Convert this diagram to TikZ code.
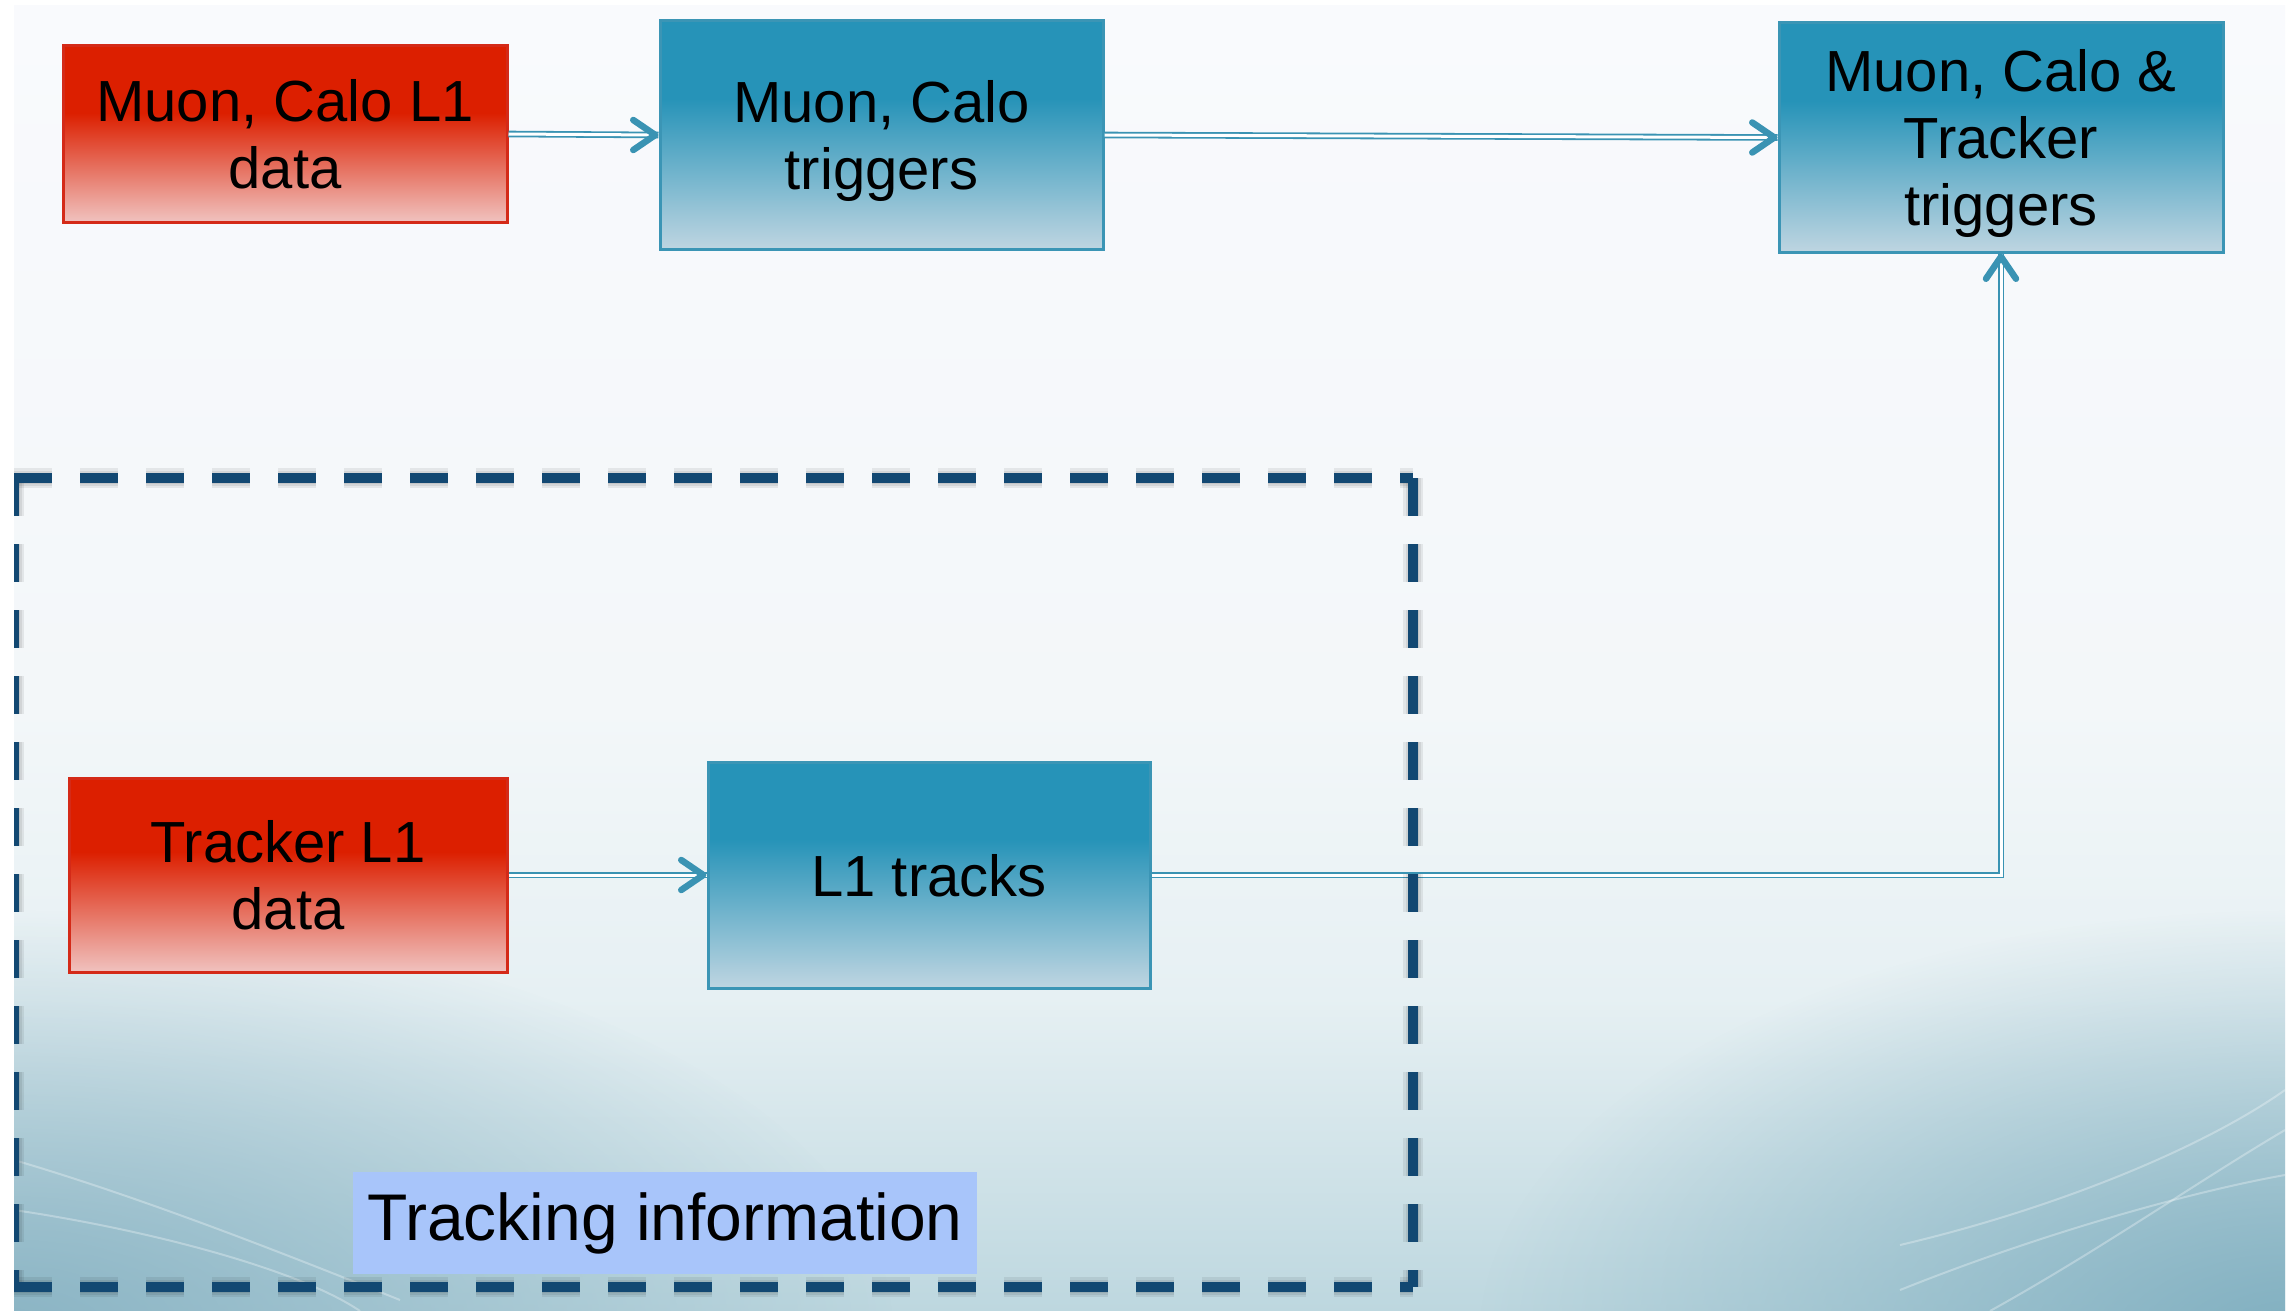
\documentclass[tikz,border=0pt]{standalone}
\usepackage{fontspec}
\setmainfont{Liberation Sans}
\usetikzlibrary{arrows.meta,fadings,calc}
\definecolor{redtop}{HTML}{DC1F00}
\definecolor{redbot}{HTML}{F0C2BF}
\definecolor{redline}{HTML}{D42A18}
\definecolor{bluetop}{HTML}{2693B8}
\definecolor{bluebot}{HTML}{BED5E1}
\definecolor{blueline}{HTML}{3B95B5}
\definecolor{lnk}{HTML}{3A93B3}
\definecolor{navy}{HTML}{124872}
\definecolor{lblfill}{HTML}{A8C5FA}
\definecolor{bgA}{HTML}{F9FAFD}
\definecolor{bgB}{HTML}{F3F7F9}
\definecolor{bgC}{HTML}{E6F0F3}
\definecolor{bgD}{HTML}{BDD7DF}
\definecolor{tealL}{HTML}{8AB4C4}
\definecolor{tealR}{HTML}{80AFC0}
\pgfdeclareverticalshading{redsh}{100bp}{color(0bp)=(redbot); color(25bp)=(redbot); color(56bp)=(redtop); color(100bp)=(redtop)}
\pgfdeclareverticalshading{bluesh}{100bp}{color(0bp)=(bluebot); color(25bp)=(bluebot); color(58bp)=(bluetop); color(100bp)=(bluetop)}
\pgfdeclareverticalshading{bgsh}{100bp}{color(0bp)=(bgD); color(25bp)=(bgD); color(37bp)=(bgC); color(48bp)=(bgB); color(75bp)=(bgA); color(100bp)=(bgA)}
\tikzfading[name=softblob, inner color=transparent!0, outer color=transparent!100]
\begin{document}
\begin{tikzpicture}[x=1pt,y=-1pt,
  boxbase/.style={rectangle, inner sep=0pt, align=center, line width=3pt, text depth=0pt,
    font=\fontsize{58}{67}\selectfont},
  redbox/.style={boxbase, draw=redline, shading=redsh},
  bluebox/.style={boxbase, draw=blueline, shading=bluesh},
  dbl/.style={draw=lnk, double=white, double distance=3pt, line width=1.8pt},
  tipst/.style={draw=lnk, line width=6.5pt, -{Straight Barb[length=22pt,width=30pt,round]}},
  frame/.style={draw=navy, line width=10pt, dash pattern=on 38pt off 28pt},
  frameshadow/.style={draw=black, opacity=0.07, dash pattern=on 38pt off 28pt},
  wave/.style={draw=white, opacity=0.3, line width=2pt},
  lbl/.style={rectangle, fill=lblfill, inner sep=0pt, minimum width=624pt, minimum height=102pt,
    font=\fontsize{66}{70}\selectfont}
]
\useasboundingbox (0,0) rectangle (2289,1311);
\fill[white] (0,0) rectangle (2289,1311);
\shade[shading=bgsh] (14,6) rectangle (2285,1311);
\begin{scope}
\clip (14,6) rectangle (2285,1311);
\fill[tealL, path fading=softblob] (0,1330) ellipse [x radius=900, y radius=420];
\fill[tealR, path fading=softblob] (2300,1340) ellipse [x radius=820, y radius=430];
\draw[wave] (14,1160) .. controls (150,1200) and (300,1260) .. (400,1300);
\draw[wave] (14,1210) .. controls (150,1230) and (300,1270) .. (360,1311);
\draw[wave] (1900,1245) .. controls (2050,1210) and (2200,1150) .. (2285,1090);
\draw[wave] (1990,1311) .. controls (2100,1250) and (2200,1180) .. (2285,1130);
\draw[wave] (1900,1290) .. controls (2050,1230) and (2200,1190) .. (2285,1175);
\end{scope}

% nodes
\node[redbox, minimum width=444pt, minimum height=176pt] (m1) at (285,134) {Muon, Calo L1\\data};
\node[bluebox, minimum width=443pt, minimum height=228pt] (m2) at (881.5,135) {Muon, Calo\\triggers};
\node[bluebox, minimum width=444pt, minimum height=229pt] (m3) at (2001,137.5) {Muon, Calo \&\\Tracker\\triggers};
\node[redbox, minimum width=438pt, minimum height=194pt] (m4) at (288,875) {Tracker L1\\data};
\node[bluebox, minimum width=442pt, minimum height=226pt] (m5) at (929,875) {L1 tracks};

% connectors
\draw[dbl] (m1.east) -- (m2.west);
\draw[dbl] (m2.east) -- (m3.west);
\draw[dbl] (m4.east) -- (m5.west);
\draw[dbl] (m5.east) -| (m3.south);
\draw[tipst] ($(m2.west)+(-2,0)$) -- (m2.west);
\draw[tipst] ($(m3.west)+(-2,0)$) -- (m3.west);
\draw[tipst] ($(m5.west)+(-2,0)$) -- (m5.west);
\draw[tipst] ($(m3.south)+(0,2)$) -- (m3.south);

% dashed frame with soft shadow
\coordinate (ftl) at (14,478);
\coordinate (ftr) at (1413,478);
\coordinate (fbl) at (14,1287);
\coordinate (fbr) at (1413,1287);
\foreach \w in {20,15,11}{
  \draw[frameshadow, line width=\w pt, shift={(3,6)}] (ftl) -- (ftr);
  \draw[frameshadow, line width=\w pt, shift={(3,6)}] (ftr) -- (fbr);
  \draw[frameshadow, line width=\w pt, shift={(3,6)}] (fbl) -- (fbr);
  \draw[frameshadow, line width=\w pt, shift={(3,6)}] (ftl) -- (fbl);
}
\draw[frame] (ftl) -- (ftr);
\draw[frame] (ftr) -- (fbr);
\draw[frame] (fbl) -- (fbr);
\draw[frame] (ftl) -- (fbl);
\fill[white] (0,0) rectangle (14,1311);

\node[lbl] (tl) at (665,1223) {Tracking information};
\end{tikzpicture}
\end{document}
